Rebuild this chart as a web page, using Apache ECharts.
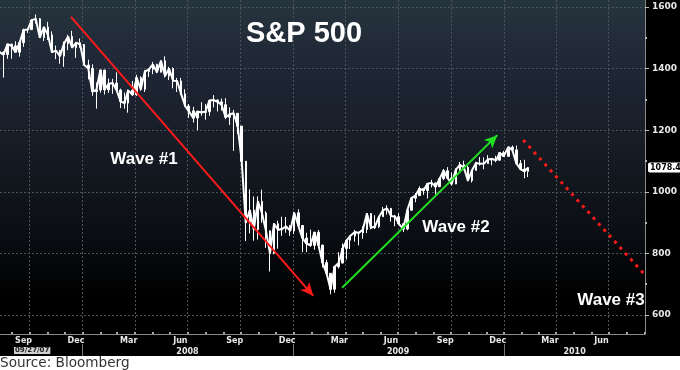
<!DOCTYPE html>
<html><head><meta charset="utf-8">
<script src="https://cdn.jsdelivr.net/npm/echarts@6/dist/echarts.min.js"></script>
<style>html,body{margin:0;padding:0;background:#fff}#c{width:680px;height:370px}</style>
</head><body><div id="c"></div>
<script>
// Weekly S&P 500 values
const weekDates = [
 '2007-08-10','2007-08-17','2007-08-24','2007-08-31','2007-09-07','2007-09-14','2007-09-21','2007-09-28','2007-10-05','2007-10-12','2007-10-19','2007-10-26','2007-11-02','2007-11-09','2007-11-16','2007-11-23','2007-11-30','2007-12-07','2007-12-14','2007-12-21','2007-12-28',
 '2008-01-04','2008-01-11','2008-01-18','2008-01-25','2008-02-01','2008-02-08','2008-02-15','2008-02-22','2008-02-29','2008-03-07','2008-03-14','2008-03-20','2008-03-28','2008-04-04','2008-04-11','2008-04-18','2008-04-25','2008-05-02','2008-05-09','2008-05-16','2008-05-23','2008-05-30','2008-06-06','2008-06-13','2008-06-20','2008-06-27','2008-07-03','2008-07-11','2008-07-18','2008-07-25','2008-08-01','2008-08-08','2008-08-15','2008-08-22','2008-08-29','2008-09-05','2008-09-12','2008-09-19','2008-09-26','2008-10-03','2008-10-10','2008-10-17','2008-10-24','2008-10-31','2008-11-07','2008-11-14','2008-11-21','2008-11-28','2008-12-05','2008-12-12','2008-12-19','2008-12-26',
 '2009-01-02','2009-01-09','2009-01-16','2009-01-23','2009-01-30','2009-02-06','2009-02-13','2009-02-20','2009-02-27','2009-03-06','2009-03-13','2009-03-20','2009-03-27','2009-04-03','2009-04-09','2009-04-17','2009-04-24','2009-05-01','2009-05-08','2009-05-15','2009-05-22','2009-05-29','2009-06-05','2009-06-12','2009-06-19','2009-06-26','2009-07-02','2009-07-10','2009-07-17','2009-07-24','2009-07-31','2009-08-07','2009-08-14','2009-08-21','2009-08-28','2009-09-04','2009-09-11','2009-09-18','2009-09-25','2009-10-02','2009-10-09','2009-10-16','2009-10-23','2009-10-30','2009-11-06','2009-11-13','2009-11-20','2009-11-27','2009-12-04','2009-12-11','2009-12-18','2009-12-24','2009-12-31',
 '2010-01-08','2010-01-15','2010-01-22','2010-01-29','2010-02-05','2010-02-11'
];
const weekClose = [
 1453.6,1445.9,1479.4,1474.0,1453.6,1484.3,1525.8,1526.8,1557.6,1561.8,1500.6,1535.3,1509.7,1453.7,1458.7,1440.7,1481.1,1504.7,1468.0,1484.5,1478.5,
 1411.6,1401.0,1325.2,1330.6,1395.4,1331.3,1350.0,1353.1,1330.6,1293.4,1288.1,1329.5,1315.2,1370.4,1332.8,1390.3,1397.8,1413.9,1388.3,1425.4,1375.9,1400.4,1360.7,1360.0,1317.9,1278.4,1262.9,1239.5,1260.7,1257.8,1260.3,1296.3,1298.2,1292.2,1282.8,1242.3,1251.7,1255.1,1213.3,1099.2,899.2,940.6,876.8,968.8,931.0,873.3,800.0,896.2,876.1,879.7,887.9,872.8,
 931.8,890.4,850.1,832.0,825.9,868.6,826.8,770.1,735.1,683.4,756.6,768.5,815.9,842.5,856.6,869.6,866.2,877.5,929.2,882.9,887.0,919.1,940.1,946.2,921.2,918.9,896.4,879.1,940.4,979.3,987.5,1010.5,1004.1,1026.1,1028.9,1016.4,1042.7,1068.3,1044.4,1025.2,1071.5,1087.7,1079.6,1036.2,1069.3,1093.5,1091.4,1091.5,1106.0,1106.4,1102.5,1126.5,1115.1,
 1145.0,1136.0,1091.8,1073.9,1066.2,1078.47
];
const weekHigh = [
 1503,1456,1480,1481,1489,1485,1530,1532,1561,1576,1564,1535,1552,1521,1475,1461,1488,1510,1523,1485,1498,
 1471,1429,1414,1355,1396,1396,1368,1367,1388,1335,1322,1332,1360,1380,1375,1395,1399,1422,1416,1426,1440,1406,1404,1370,1370,1333,1285,1276,1263,1291,1285,1297,1314,1300,1303,1304,1274,1266,1255,1214,1097,1008,985,985,1007,937,873,897,906,919,918,892,
 935,943,889,867,877,870,876,828,779,736,758,804,832,845,857,876,868,888,930,931,924,920,951,956,944,925,930,898,943,980,996,1018,1013,1027,1039,1028,1045,1074,1080,1063,1076,1097,1101,1085,1072,1097,1113,1112,1119,1110,1117,1127,1133,
 1146,1150,1150,1103,1104,1080
];
const weekLow = [
 1427,1371,1432,1432,1453,1439,1471,1516,1527,1546,1500,1490,1493,1451,1431,1416,1406,1460,1467,1435,1468,
 1411,1365,1312,1270,1322,1316,1321,1318,1330,1272,1270,1257,1312,1312,1328,1324,1373,1382,1385,1388,1371,1363,1336,1324,1314,1277,1240,1225,1200,1247,1234,1247,1274,1261,1264,1236,1217,1133,1188,1098,840,865,841,845,899,818,741,797,815,857,867,857,
 863,883,804,804,821,812,818,754,733,667,672,751,767,780,814,838,826,847,866,878,879,882,919,926,903,888,895,869,875,938,966,987,990,978,1014,991,1017,1038,1041,1020,1026,1068,1070,1034,1030,1069,1085,1073,1092,1086,1096,1102,1114,
 1115,1132,1091,1071,1044,1048
];
const rightTicks = [600, 800, 1000, 1200, 1400, 1600];
const rightMinorTicks = [700, 900, 1100, 1300, 1500];
const monthLabelDates = ['2007-09-01','2007-12-01','2008-03-01','2008-06-01','2008-09-01','2008-12-01','2009-03-01','2009-06-01','2009-09-01','2009-12-01','2010-03-01','2010-06-01'];
const quarterDates = ['2007-10-01','2008-01-01','2008-04-01','2008-07-01','2008-10-01','2009-01-01','2009-04-01','2009-07-01','2009-10-01','2010-01-01','2010-04-01','2010-07-01'];
const monthTickDates = ['2007-09-01','2007-10-01','2007-11-01','2007-12-01','2008-01-01','2008-02-01','2008-03-01','2008-04-01','2008-05-01','2008-06-01','2008-07-01','2008-08-01','2008-09-01','2008-10-01','2008-11-01','2008-12-01','2009-01-01','2009-02-01','2009-03-01','2009-04-01','2009-05-01','2009-06-01','2009-07-01','2009-08-01','2009-09-01','2009-10-01','2009-11-01','2009-12-01','2010-01-01','2010-02-01','2010-03-01','2010-04-01','2010-05-01','2010-06-01','2010-07-01','2010-08-01','2010-09-01'];
const yearLabelDates = ['2008-07-01','2009-07-01','2010-05-03'];
const yearLabelTexts = ['2008','2009','2010'];
const yearBreakDates = ['2008-01-01','2009-01-01','2010-01-01'];
const wave1 = [['2007-12-12', 1568], ['2009-02-04', 662]];
const wave2 = [['2009-03-26', 688], ['2009-12-20', 1184]];
const wave3 = [['2010-02-03', 1168], ['2010-08-30', 736]];
const monthNames = ['Jan','Feb','Mar','Apr','May','Jun','Jul','Aug','Sep','Oct','Nov','Dec'];

function ts(s){ const p = s.split('-').map(Number); return Date.UTC(p[0], p[1]-1, p[2]); }
const xMin = ts('2007-08-11'), xMax = ts('2010-09-02');
const yMin = 538, yMax = 1623;

const ohlc = weekDates.map((d,i) => [ts(d), i ? weekClose[i-1] : weekClose[i], weekClose[i], weekLow[i], weekHigh[i]]);
const closeLine = weekDates.map((d,i) => [ts(d), weekClose[i]]);
const yearMap = {}; yearLabelDates.forEach((d,i)=>{ yearMap[ts(d)] = yearLabelTexts[i]; });
const lastClose = weekClose[weekClose.length-1];

const chart = echarts.init(document.getElementById('c'), null, {renderer:'canvas'});
const axisFont = {color:'#e8e8e8', fontSize:8, fontWeight:'bold', fontFamily:'DejaVu Sans'};
chart.setOption({
  animation:false,
  backgroundColor:'#000',
  title:{text:'S&P 500', left:246, top:19, padding:0,
    textStyle:{color:'#fff', fontSize:29, fontWeight:'bold', fontFamily:'Liberation Sans'}},
  grid:{left:0, right:35, top:0, bottom:36, show:true, borderWidth:0, outerBoundsMode:'none', containLabel:false,
    backgroundColor:{type:'linear', x:0, y:0, x2:0, y2:1, colorStops:[
      {offset:0, color:'#26353d'},{offset:0.2, color:'#1f2636'},{offset:0.45, color:'#161c24'},
      {offset:0.7, color:'#0b0e13'},{offset:0.88, color:'#000'},{offset:1, color:'#000'}]}},
  xAxis:[
    {type:'value', min:xMin, max:xMax, position:'bottom', scale:true,
     axisLine:{show:true, lineStyle:{color:'#8a8a8a', width:1}},
     axisTick:{show:false, customValues: quarterDates.map(ts)},
     splitLine:{show:true, lineStyle:{color:'#4a545c', type:[2,2], width:1}},
     axisLabel:{customValues: monthLabelDates.map(ts), align:'left', margin:3, padding:[0,0,0,3],
       formatter: v => monthNames[new Date(v).getUTCMonth()], ...axisFont}},
    {type:'value', min:xMin, max:xMax, position:'bottom', offset:10, scale:true,
     axisLine:{show:false},
     axisTick:{show:true, inside:false, length:12, customValues: yearBreakDates.map(ts), lineStyle:{color:'#777'}},
     splitLine:{show:false},
     axisLabel:{customValues: yearLabelDates.map(ts), margin:4, formatter: v => yearMap[v] || '', ...axisFont}},
    {type:'value', min:xMin, max:xMax, position:'bottom', scale:true,
     axisLine:{show:false},
     axisTick:{show:true, inside:true, length:2, customValues: monthTickDates.map(ts), lineStyle:{color:'#aaa', width:2}},
     splitLine:{show:false}, axisLabel:{show:false}}
  ],
  yAxis:[
    {type:'value', position:'right', min:yMin, max:yMax,
     axisLine:{show:true, lineStyle:{color:'#8a8a8a'}},
     axisTick:{show:true, length:4, customValues: rightTicks, lineStyle:{color:'#bbb'}},
     splitLine:{show:true, lineStyle:{color:'#4a545c', type:[2,2], width:1}},
     axisLabel:{customValues: rightTicks, margin:7, formatter: v => String(v), ...axisFont, fontSize:9}},
    {type:'value', position:'right', min:yMin, max:yMax,
     axisLine:{show:false},
     axisTick:{show:true, length:2, customValues: rightMinorTicks, lineStyle:{color:'#bbb', width:2}},
     splitLine:{show:false}, axisLabel:{show:false}}
  ],
  series:[
    {type:'candlestick', name:'S&P 500 range', xAxisIndex:0, yAxisIndex:0, barWidth:2, data:ohlc,
     itemStyle:{color:'#fff', color0:'#fff', borderColor:'#fff', borderColor0:'#fff', borderWidth:1},
     markLine:{silent:true, symbol:'none', animation:false,
       lineStyle:{color:'rgba(0,0,0,0)', width:0},
       label:{show:true, position:'end', distance:3, formatter: () => lastClose.toFixed(2),
         backgroundColor:'#fff', color:'#000', fontSize:8, fontWeight:'bold', fontFamily:'DejaVu Sans',
         padding:[1,2,1,2], borderRadius:2},
       data:[{yAxis:lastClose}]}},
    {type:'line', name:'S&P 500', xAxisIndex:0, yAxisIndex:0, data:closeLine, showSymbol:false,
     lineStyle:{color:'#fff', width:2},
     markLine:{silent:true, animation:false, symbol:['none','arrow'], symbolSize:[9,13],
       label:{show:false},
       data:[
         [{coord:[ts(wave1[0][0]), wave1[0][1]], lineStyle:{color:'#ff1a1a', width:2, type:'solid'}, itemStyle:{color:'#ff1a1a'}},
          {coord:[ts(wave1[1][0]), wave1[1][1]]}],
         [{coord:[ts(wave2[0][0]), wave2[0][1]], lineStyle:{color:'#22e022', width:2, type:'solid'}, itemStyle:{color:'#22e022'}},
          {coord:[ts(wave2[1][0]), wave2[1][1]]}],
         [{coord:[ts(wave3[0][0]), wave3[0][1]], symbol:'none', lineStyle:{color:'#ff1a1a', width:3, type:[3,5]}},
          {coord:[ts(wave3[1][0]), wave3[1][1]], symbol:'none'}]
       ]}}
  ],
  graphic:[
    {type:'rect', left:0, top:356, shape:{width:680, height:14}, style:{fill:'#fff'}, z:5},
    {type:'text', left:0, top:356, style:{text:'Source: Bloomberg', fill:'#333', font:'13.6px "DejaVu Sans"'}, z:6},
    {type:'text', left:14, top:347, style:{text:'09/27/07', fill:'#222', font:'bold 7px "DejaVu Sans"', backgroundColor:'#d0d0d0', padding:[0,1]}, z:6},
    {type:'text', x:144, y:159, style:{text:'Wave #1', fill:'#fff', font:'bold 17px "Liberation Sans"', align:'center', verticalAlign:'middle'}, z:6},
    {type:'text', x:456, y:227, style:{text:'Wave #2', fill:'#fff', font:'bold 17px "Liberation Sans"', align:'center', verticalAlign:'middle'}, z:6},
    {type:'text', x:611, y:300, style:{text:'Wave #3', fill:'#fff', font:'bold 17px "Liberation Sans"', align:'center', verticalAlign:'middle'}, z:6}
  ]
});
</script></body></html>
